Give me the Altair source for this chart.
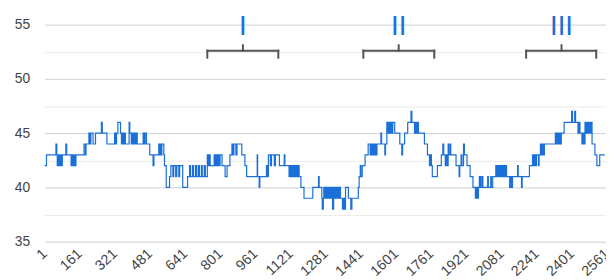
import altair as alt
import pandas as pd

# ---- step series: x where a new value starts, and that value ----
step_x = [1, 10, 53, 57, 59, 64, 68, 73, 77, 82, 98, 102, 122, 127, 131, 136, 140, 144,
          181, 187, 190, 203, 208, 212, 222, 233, 260, 264, 285, 320, 324, 329, 335, 347,
          351, 356, 360, 365, 369, 386, 389, 396, 401, 405, 410, 414, 419, 423, 450, 454,
          459, 465, 480, 495, 499, 521, 524, 526, 531, 535, 544, 547, 555, 570, 576, 585,
          589, 598, 603, 612, 616, 630, 652, 661, 666, 675, 679, 688, 693, 701, 706, 715,
          719, 728, 733, 742, 746, 751, 755, 773, 778, 782, 787, 791, 796, 800, 809, 823,
          832, 845, 854, 859, 863, 872, 877, 899, 913, 921, 969, 971, 978, 981, 1011, 1016,
          1020, 1029, 1034, 1047, 1052, 1070, 1092, 1095, 1114, 1119, 1124, 1128, 1133,
          1137, 1142, 1146, 1151, 1155, 1160, 1168, 1182, 1222, 1248, 1251, 1263, 1265,
          1270, 1272, 1276, 1281, 1285, 1290, 1294, 1299, 1303, 1308, 1312, 1317, 1321,
          1326, 1330, 1335, 1339, 1344, 1348, 1357, 1362, 1366, 1371, 1384, 1395, 1400,
          1429, 1433, 1438, 1441, 1447, 1460, 1474, 1483, 1487, 1492, 1496, 1501, 1505,
          1510, 1514, 1532, 1535, 1550, 1553, 1559, 1564, 1568, 1573, 1577, 1582, 1586,
          1595, 1618, 1627, 1631, 1640, 1654, 1669, 1673, 1685, 1690, 1694, 1699, 1703,
          1730, 1744, 1753, 1757, 1762, 1766, 1789, 1807, 1814, 1818, 1825, 1829, 1834,
          1838, 1841, 1847, 1850, 1861, 1874, 1888, 1891, 1897, 1901, 1908, 1912, 1924,
          1938, 1951, 1962, 1967, 1971, 1976, 1980, 1985, 1991, 1996, 2018, 2021, 2032,
          2035, 2041, 2055, 2059, 2064, 2068, 2073, 2077, 2082, 2086, 2091, 2095, 2100,
          2104, 2118, 2122, 2127, 2131, 2154, 2157, 2172, 2175, 2208, 2222, 2226, 2231,
          2235, 2240, 2249, 2252, 2258, 2263, 2267, 2272, 2276, 2326, 2330, 2335, 2339,
          2344, 2348, 2353, 2366, 2400, 2404, 2414, 2418, 2429, 2434, 2438, 2447, 2452,
          2456, 2461, 2465, 2470, 2474, 2479, 2483, 2488, 2493, 2506, 2515, 2528]
step_y = [42, 43, 44, 43, 42, 43, 42, 43, 42, 43, 44, 43, 42, 43, 42, 43, 42, 43,
          44, 43, 44, 45, 44, 45, 44, 45, 46, 45, 44, 45, 44, 45, 46, 45,
          44, 45, 44, 45, 44, 46, 45, 44, 45, 44, 45, 44, 45, 44, 45, 44,
          45, 44, 43, 42, 43, 44, 43, 44, 43, 44, 43, 42, 40, 41, 42, 41,
          42, 41, 42, 41, 42, 40, 41, 42, 41, 42, 41, 42, 41, 42, 41, 42,
          41, 42, 41, 43, 42, 43, 42, 43, 42, 43, 42, 43, 42, 43, 42, 41,
          42, 43, 44, 43, 44, 43, 44, 43, 42, 41, 43, 41, 40, 41, 42, 41,
          43, 42, 43, 42, 43, 42, 43, 42, 41, 42, 41, 42, 41,
          42, 41, 42, 41, 42, 41, 40, 39, 40, 41, 40, 39, 38,
          39, 40, 39, 40, 39, 40, 39, 40, 39, 40, 38, 40, 39,
          40, 39, 40, 39, 40, 39, 38, 39, 38, 40, 39, 38, 39,
          40, 41, 42, 41, 42, 43, 44, 43, 44, 43, 44, 43, 44,
          43, 44, 45, 44, 43, 44, 46, 45, 46, 45, 46, 45, 46,
          45, 44, 43, 44, 45, 46, 47, 46, 45, 46, 45, 46, 45,
          44, 43, 42, 43, 42, 41, 42, 43, 44, 43, 42, 43, 42,
          44, 43, 44, 43, 43, 42, 41, 42, 43, 42, 44, 43, 42,
          41, 40, 39, 40, 39, 40, 41, 40, 41, 40, 41, 40, 41,
          40, 41, 42, 41, 42, 41, 42, 41, 42, 41, 42, 41, 42,
          41, 40, 41, 40, 41, 42, 41, 40, 41, 42, 43, 42, 43,
          42, 43, 42, 43, 44, 43, 44, 43, 44, 45, 44, 45, 44,
          45, 44, 45, 46, 47, 46, 47, 46, 45, 46, 45, 44, 45,
          44, 46, 45, 46, 45, 46, 45, 46, 44, 43, 42, 43]
x_last = 2551

x_ticks = [1, 161, 321, 481, 641, 801, 961, 1121, 1281, 1441, 1601, 1761, 1921,
           2081, 2241, 2401, 2561]
y_ticks = [35, 37.5, 40, 42.5, 45, 47.5, 50, 52.5, 55]

bracket_start = [742, 1452, 2193]
bracket_end = [1065, 1775, 2512]
bracket_mid = [904, 1613, 2354]
bracket_label = ["I", "II", "III"]
bracket_line = 52.6
bracket_foot = 51.95
bracket_peak = 53.1
label_base = 54.0

BLUE = "#1a6fd9"
GREY = "#555555"

line_df = pd.DataFrame({"x": step_x + [x_last], "y": step_y + [step_y[-1]]})
br_df = pd.DataFrame({
    "s": bracket_start, "e": bracket_end, "m": bracket_mid, "t": bracket_label,
    "lv": [bracket_line] * 3, "lo": [bracket_foot] * 3, "hi": [bracket_peak] * 3,
    "ly": [label_base] * 3,
})

xscale = alt.Scale(domain=[1, 2561], range=[0, 570], nice=False, zero=False)
yscale = alt.Scale(domain=[35, 55], nice=False, zero=False)
xaxis = alt.Axis(values=x_ticks, format="d", labelAngle=-43, labelAlign="right",
                 labelBaseline="middle", labelPadding=10, labelFontSize=14.5,
                 grid=False, title=None, labelOverlap=False, labelFlush=False)
yaxis = alt.Axis(values=y_ticks, title=None, labelFontSize=14, labelPadding=15,
                 labelExpr="datum.value % 5 === 0 ? datum.label : ''",
                 gridColor={"condition": {"test": "datum.value % 5 === 0", "value": "#cfcfcf"},
                            "value": "#ececec"})


def X(f):
    return alt.X(f"{f}:Q", scale=xscale, axis=xaxis)


def Y(f):
    return alt.Y(f"{f}:Q", scale=yscale, axis=yaxis)


line = alt.Chart(line_df).mark_line(interpolate="step-after", color=BLUE,
                                    strokeWidth=1.2).encode(x=X("x"), y=Y("y"))

base_b = alt.Chart(br_df)
rule_kw = dict(color=GREY, strokeWidth=2, strokeCap="square")
h = base_b.mark_rule(**rule_kw).encode(x=X("s"), x2="e", y=Y("lv"))
lft = base_b.mark_rule(**rule_kw).encode(x=X("s"), y=Y("lo"), y2="lv")
rgt = base_b.mark_rule(**rule_kw).encode(x=X("e"), y=Y("lo"), y2="lv")
mid = base_b.mark_rule(**rule_kw).encode(x=X("m"), y=Y("lv"), y2="hi")
txt = base_b.mark_text(font="Liberation Sans", fontSize=28, color=BLUE,
                       align="center", baseline="alphabetic").encode(
    x=X("m"), y=Y("ly"), text="t:N")

chart = alt.layer(line, h, lft, rgt, mid, txt).properties(
    width=569, height=220,
    autosize=alt.AutoSizeParams(type="none"),
    padding={"left": 37, "top": 15, "right": 0, "bottom": 37},
).configure_axis(
    domain=False, ticks=False, tickSize=0, labelFont="Liberation Sans",
    labelColor="#444444",
).configure_view(stroke=None)

chart.save("out.html", embed_options={"renderer": "svg", "actions": False})
